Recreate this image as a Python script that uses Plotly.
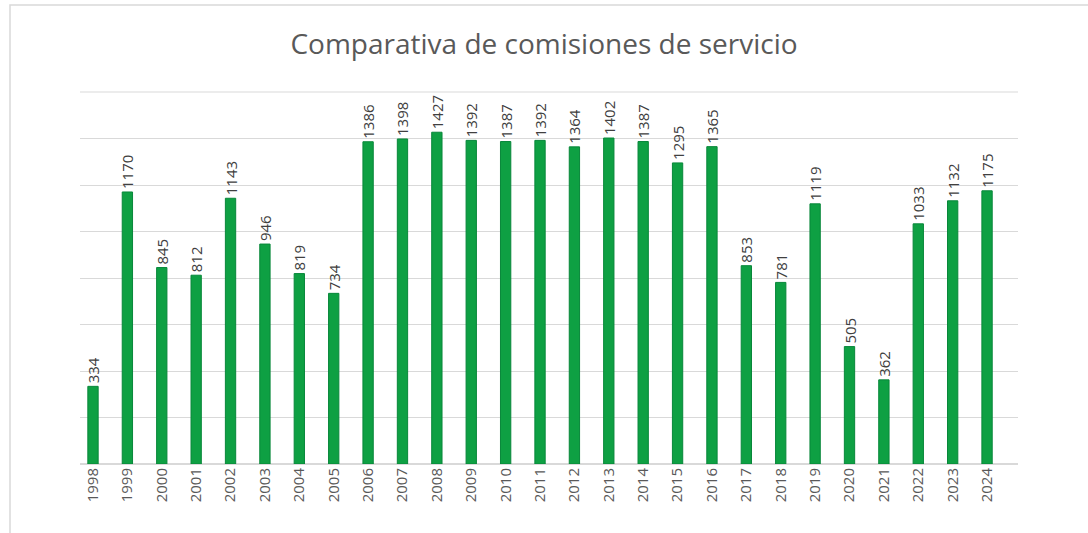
import plotly.graph_objects as go

years = [str(y) for y in range(1998, 2025)]
values = [334, 1170, 845, 812, 1143, 946, 819, 734, 1386, 1398, 1427, 1392, 1387,
          1392, 1364, 1402, 1387, 1295, 1365, 853, 781, 1119, 505, 362, 1033, 1132, 1175]
title_text = "Comparativa de comisiones de servicio"

W, H = 1088, 533
L, R, T, B = 80, 70, 92, 69
pw, ph = W - L - R, H - T - B
FONT = "Open Sans, Lato, sans-serif"

def px_x(x):
    return (x - L) / pw

def px_y(y):
    return (H - B - y) / ph

fig = go.Figure(go.Bar(
    x=years, y=values,
    width=0.3,
    marker=dict(color="#0ea043", line=dict(color="#08873a", width=1)),
    text=[str(v) for v in values],
    textposition="outside",
    textangle=-90,
    constraintext="none",
    textfont=dict(family=FONT, size=15, color="#404040"),
    cliponaxis=False,
))

fig.update_layout(
    width=W, height=H,
    margin=dict(l=L, r=R, t=T, b=B),
    paper_bgcolor="white", plot_bgcolor="white",
    showlegend=False,
    title=dict(text=title_text, x=0.5, xanchor="center", y=1 - 44 / H, yanchor="middle",
               font=dict(family=FONT, size=28, color="#595959")),
    xaxis=dict(type="category", range=[-0.378, 26.9], showgrid=False, zeroline=False,
               showline=False, ticks="", tickangle=-90,
               tickfont=dict(family=FONT, size=15, color="#595959")),
    yaxis=dict(range=[0, 1600], dtick=200, showgrid=True, gridcolor="#d9d9d9", gridwidth=1,
               zeroline=True, zerolinecolor="#d9d9d9", showticklabels=False, ticks=""),
    shapes=[dict(type="rect", xref="paper", yref="paper",
                 x0=px_x(10), x1=px_x(1095), y0=px_y(540), y1=px_y(5),
                 line=dict(color="#d9d9d9", width=1.5), fillcolor="rgba(0,0,0,0)", layer="below"),
            dict(type="line", xref="paper", yref="paper",
                 x0=0, x1=1, y0=1, y1=1, line=dict(color="#d9d9d9", width=1))],
)

fig.write_html("out.html", config={"displayModeBar": False},
               post_script="document.body.style.margin='0px';document.body.style.overflow='hidden';")
